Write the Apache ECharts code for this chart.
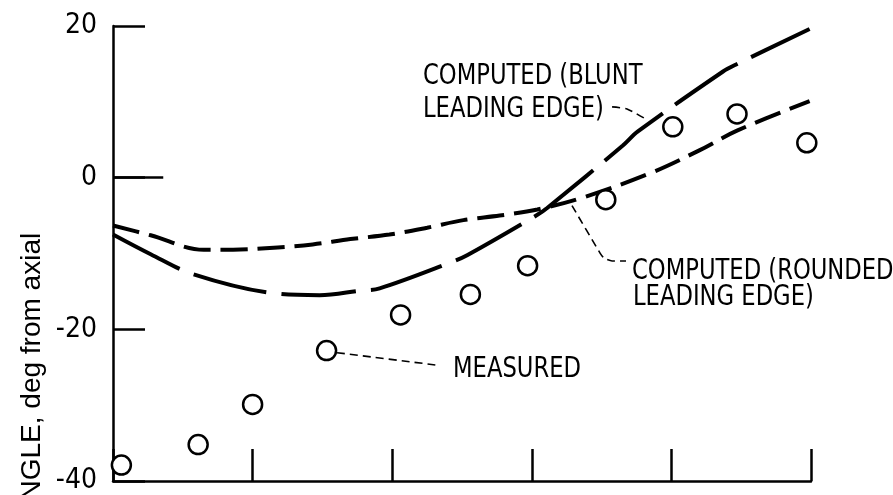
<!DOCTYPE html>
<html>
<head>
<meta charset="utf-8">
<script src="https://cdn.jsdelivr.net/npm/echarts@6/dist/echarts.min.js"></script>
<style>
html,body{margin:0;padding:0;background:#fff;}
#chart{width:893px;height:495px;}
</style>
</head>
<body>
<div id="chart"></div>
<script>
// ---- data ----
const yTickValues = [-40, -20, 0, 20];
const xTickValues = [0, 1, 2, 3, 4, 5];

const measuredX = [0.06, 0.61, 1.0, 1.53, 2.06, 2.56, 2.97, 3.53, 4.01, 4.47, 4.97];
const measuredY = [-37.9, -35.2, -29.9, -22.8, -18.1, -15.4, -11.6, -2.9, 6.7, 8.4, 4.6];

const bluntX = [0, 0.27, 0.57, 1.13, 1.48, 1.77, 1.91, 2.43, 2.54, 3.04, 3.11, 3.65, 3.76, 4.37, 4.46, 4.99];
const bluntY = [-7.5, -10.1, -12.7, -15.2, -15.5, -14.9, -14.6, -11.1, -10.2, -4.9, -4.0, 4.2, 6.1, 14.0, 14.9, 19.6];

const roundedX = [0, 0.27, 0.65, 0.86, 1.18, 1.43, 1.70, 1.98, 2.25, 2.51, 2.77, 3.04, 3.37, 3.85, 4.20, 4.47, 4.99];
const roundedY = [-6.3, -7.6, -9.5, -9.5, -9.2, -8.8, -8.1, -7.5, -6.6, -5.6, -5.0, -4.2, -2.6, 0.6, 3.6, 6.2, 10.1];

const labelBlunt = ['COMPUTED (BLUNT', 'LEADING EDGE)'];
const labelRounded = ['COMPUTED (ROUNDED', 'LEADING EDGE)'];
const labelMeasured = 'MEASURED';
const yAxisTitle = 'ANGLE, deg from axial';

// leader lines (annotation anchors, data coordinates)
const leaderBluntX = [3.575, 3.682, 3.825];
const leaderBluntY = [9.33, 9.07, 7.64];
const leaderRoundedX = [3.288, 3.489, 3.517, 3.575, 3.675];
const leaderRoundedY = [-3.69, -9.94, -10.59, -10.98, -10.98];
const leaderMeasuredX = [1.605, 2.342];
const leaderMeasuredY = [-23.08, -24.77];

const zip = (a, b) => a.map((v, i) => [v, b[i]]);

const narrow = "'Liberation Sans Narrow','DejaVu Sans Condensed','Roboto Condensed',sans-serif";
const INK = '#000';

const chart = echarts.init(document.getElementById('chart'), null, {renderer: 'canvas'});

function leader(x, y) {
  return {
    type: 'line', data: zip(x, y), symbol: 'none', silent: true, smooth: 0.2,
    lineStyle: {color: INK, width: 1.6, type: [8, 5]}, z: 3
  };
}

function txt(x, y, text) {
  return {
    type: 'text', x: x, y: y, silent: true, scaleX: 0.9,
    style: {
      text: text, fill: INK,
      font: 'normal 28px ' + narrow,
      align: 'left', verticalAlign: 'middle',
      textAlign: 'left', textVerticalAlign: 'middle'
    }
  };
}

chart.setOption({
  animation: false,
  backgroundColor: '#fff',
  grid: {left: 113, right: 82, top: 26, bottom: 8, containLabel: false},
  xAxis: {
    type: 'value', min: 0, max: 5, interval: 1,
    axisLine: {show: true, onZero: false, lineStyle: {color: INK, width: 2.5}},
    axisTick: {show: true, inside: true, length: 32, lineStyle: {color: INK, width: 2.5}},
    axisLabel: {show: false},
    splitLine: {show: false}
  },
  yAxis: {
    type: 'value', min: -40, max: 20, interval: 20,
    axisLine: {show: true, onZero: false, lineStyle: {color: INK, width: 2.5}},
    axisTick: {show: true, inside: true, length: 32, lineStyle: {color: INK, width: 2.5}},
    axisLabel: {
      show: true, margin: 16, color: INK, fontSize: 28, fontFamily: narrow,
      formatter: v => yTickValues.indexOf(v) >= 0 ? String(v) : ''
    },
    splitLine: {show: false}
  },
  series: [
    {
      name: 'blunt', type: 'line', data: zip(bluntX, bluntY), symbol: 'none', smooth: 0.35,
      lineStyle: {color: INK, width: 4, type: [75, 15]}, z: 4,
      markLine: {
        symbol: 'none', silent: true, label: {show: false},
        lineStyle: {color: INK, width: 2.5, type: 'solid'},
        data: [[{coord: [0, 0]}, {coord: [0.36, 0]}]]
      }
    },
    {
      name: 'rounded', type: 'line', data: zip(roundedX, roundedY), symbol: 'none', smooth: 0.35,
      lineStyle: {color: INK, width: 4, type: [27, 10]}, z: 4
    },
    {
      name: 'measured', type: 'scatter', data: zip(measuredX, measuredY),
      symbol: 'circle', symbolSize: 19, clip: false,
      itemStyle: {color: '#fff', borderColor: INK, borderWidth: 2.5, opacity: 1}, z: 5
    },
    leader(leaderBluntX, leaderBluntY),
    leader(leaderRoundedX, leaderRoundedY),
    leader(leaderMeasuredX, leaderMeasuredY)
  ],
  graphic: [
    txt(423, 77, labelBlunt[0]),
    txt(423, 110, labelBlunt[1]),
    txt(632, 272, labelRounded[0]),
    txt(633, 298, labelRounded[1]),
    txt(453, 370, labelMeasured),
    {
      type: 'text', x: 32, y: 376, rotation: Math.PI / 2, silent: true,
      style: {
        text: yAxisTitle, fill: INK,
        font: "normal 28px 'Liberation Sans',Arial,sans-serif",
        align: 'center', verticalAlign: 'middle',
        textAlign: 'center', textVerticalAlign: 'middle'
      }
    }
  ]
});
</script>
</body>
</html>
